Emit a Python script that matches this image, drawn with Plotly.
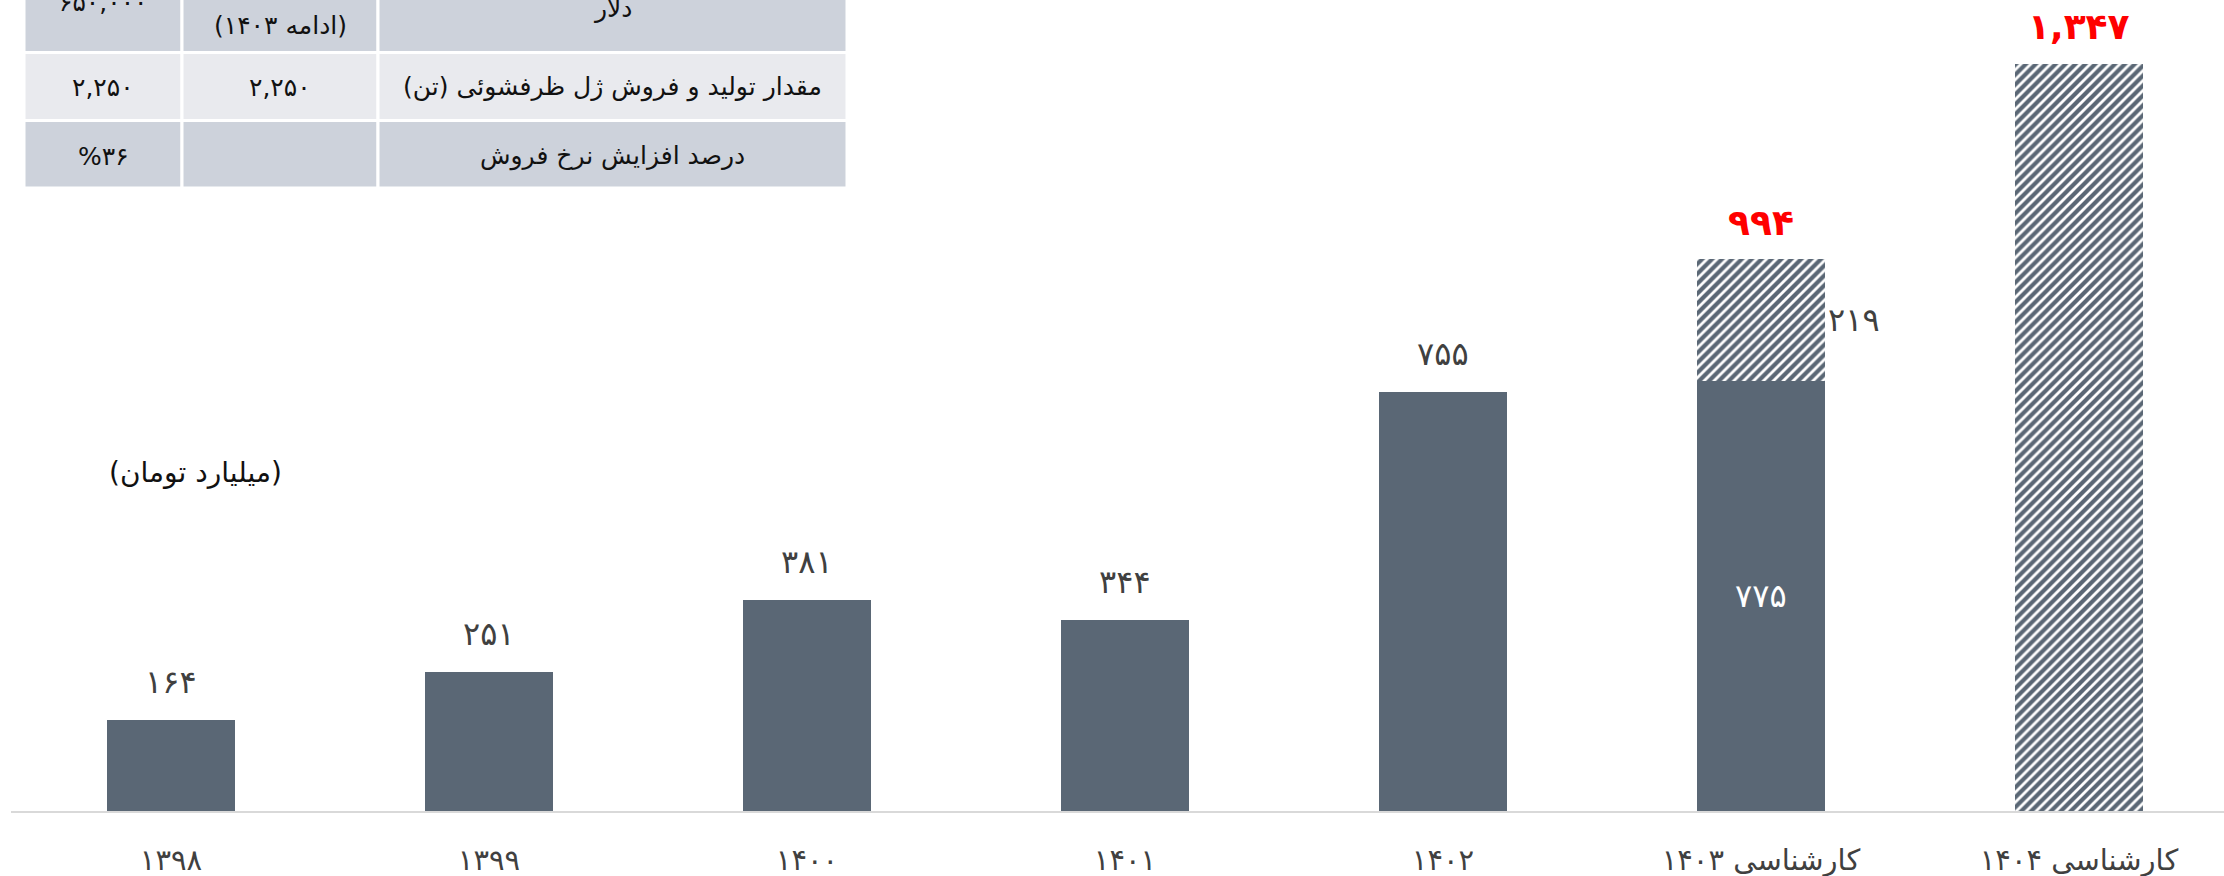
import plotly.graph_objects as go

# ---- data -------------------------------------------------------------
years = ["۱۳۹۸", "۱۳۹۹", "۱۴۰۰", "۱۴۰۱", "۱۴۰۲", "کارشناسی ۱۴۰۳", "کارشناسی ۱۴۰۴"]
actual = [164, 251, 381, 344, 755, 775, None]        # realised revenue
forecast = [None, None, None, None, None, 219, 1347]  # projected revenue

# table rows, columns listed left to right
table_rows = [
    ["۶۵۰,۰۰۰", "(ادامه ۱۴۰۳)", "دلار"],
    ["۲,۲۵۰", "۲,۲۵۰", "مقدار تولید و فروش ژل ظرفشوئی (تن)"],
    ["%۳۶", "", "درصد افزایش نرخ فروش"],
]
unit_note = "(میلیارد تومان)"

# ---- styling ----------------------------------------------------------
W, H = 2224, 876
ML, MB = 11, 65
PLOT_W, PLOT_H = W - ML, H - MB
BAR = "#5a6775"
TXT = "#404040"
FONT = "DejaVu Sans"
RLM = "\u200f"

FA = str.maketrans("0123456789", "۰۱۲۳۴۵۶۷۸۹")


def fa(n):
    return f"{n:,}".translate(FA)


def px_x(p):
    return (p - ML) / PLOT_W


def px_y(p):
    return (PLOT_H - p) / PLOT_H


fig = go.Figure()
fig.add_trace(go.Bar(
    x=years, y=actual, width=0.4,
    marker=dict(color=BAR, line=dict(width=0)),
    hoverinfo="skip",
))
fig.add_trace(go.Bar(
    x=years, y=forecast, width=0.4,
    marker=dict(color="white", line=dict(width=0),
                pattern=dict(shape="/", fgcolor=BAR, fgopacity=1, size=7,
                             solidity=0.6, fillmode="overlay")),
    hoverinfo="skip",
))

annotations = []
# value labels above the realised bars
for i, v in enumerate(actual):
    if v is None:
        continue
    if forecast[i] is None:
        annotations.append(dict(x=years[i], y=v, text=fa(v), showarrow=False,
                                xanchor="center", yanchor="middle", yshift=38,
                                font=dict(family=FONT, size=32, color=TXT)))
    else:
        annotations.append(dict(x=years[i], y=v / 2, text=fa(v), showarrow=False,
                                xanchor="center", yanchor="middle",
                                font=dict(family=FONT, size=32, color="white")))

# projected segment labels and red totals
for i, f in enumerate(forecast):
    if f is None:
        continue
    base = actual[i] or 0
    total = base + f
    if base:
        annotations.append(dict(x=years[i], y=base + f / 2, text=fa(f), showarrow=False,
                                xanchor="center", yanchor="middle", xshift=93,
                                font=dict(family=FONT, size=32, color=TXT)))
    annotations.append(dict(x=years[i], y=total, text=fa(total), showarrow=False,
                            xanchor="center", yanchor="middle", yshift=37,
                            font=dict(family=FONT, size=36, color="#ff0000",
                                      weight="bold")))

annotations.append(dict(xref="paper", yref="paper", x=px_x(195), y=px_y(472),
                        xanchor="center", yanchor="middle",
                        text=unit_note + RLM, showarrow=False,
                        font=dict(family=FONT, size=28, color="#111111")))

# ---- top-left table ---------------------------------------------------
col_edges = [24, 182, 378, 847]
row_edges = [-20, 52.5, 120.5, 188]
row_fill = ["#cdd2db", "#e9eaee", "#cdd2db"]
text_y = [[3, 26, 8], [87, 87, 87], [156, 156, 156]]
shapes = []
for r in range(3):
    for c in range(3):
        shapes.append(dict(type="rect", xref="paper", yref="paper",
                           x0=px_x(col_edges[c]), x1=px_x(col_edges[c + 1]),
                           y0=px_y(row_edges[r + 1]), y1=px_y(row_edges[r]),
                           fillcolor=row_fill[r], line=dict(color="white", width=3),
                           layer="above"))
        txt = table_rows[r][c]
        if not txt:
            continue
        annotations.append(dict(xref="paper", yref="paper",
                                x=px_x((col_edges[c] + col_edges[c + 1]) / 2),
                                y=px_y(text_y[r][c]), text=txt + RLM, showarrow=False,
                                xanchor="center", yanchor="middle",
                                font=dict(family=FONT, size=25, color="#111111")))

fig.update_layout(
    width=W, height=H,
    margin=dict(l=ML, r=0, t=0, b=MB, autoexpand=False),
    paper_bgcolor="white", plot_bgcolor="white",
    barmode="stack", showlegend=False,
    font=dict(family=FONT),
    xaxis=dict(type="category", range=[-0.503, 6.456], automargin=False,
               showline=True, linecolor="#d9d9d9", linewidth=2,
               ticks="", showgrid=False, ticklabelstandoff=22,
               tickfont=dict(family=FONT, size=29, color=TXT)),
    yaxis=dict(range=[0, 1461.5], visible=False, showgrid=False, zeroline=False,
               automargin=False),
    annotations=annotations,
    shapes=shapes,
)

fig.write_html("out.html")
